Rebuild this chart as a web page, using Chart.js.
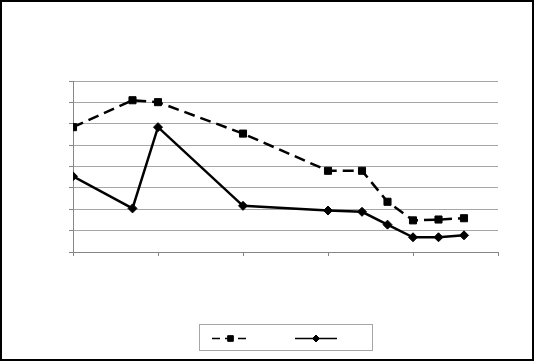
<!DOCTYPE html>
<html>
<head>
<meta charset="utf-8">
<script src="https://cdn.jsdelivr.net/npm/chart.js@4.4.1/dist/chart.umd.min.js"></script>
<style>
  html, body { margin: 0; padding: 0; background: #fff; }
  #wrap { position: absolute; left: 0; top: 0; width: 536px; height: 361px; }
  #frame {
    position: absolute; left: 0; top: 0;
    width: 530px; height: 357px;
    border: 2px solid #000;
    pointer-events: none;
  }
</style>
</head>
<body>
<div id="wrap">
  <canvas id="chart" width="536" height="361"></canvas>
  <div id="frame"></div>
</div>
<script>
// --- data ---
const xValues = [0, 7, 10, 20, 30, 34, 37, 40, 43, 46];
const squareSeries = [58.4, 71.0, 70.1, 55.4, 38.0, 38.0, 23.5, 14.8, 15.2, 15.8];
const diamondSeries = [35.4, 20.4, 58.4, 21.6, 19.4, 18.8, 12.8, 6.9, 6.9, 7.8];
const seriesNames = ['', ''];
const xTicks = [0, 10, 20, 30, 40, 50];
const yTicks = [0, 10, 20, 30, 40, 50, 60, 70, 80];

const toPoints = (ys) => ys.map((y, i) => ({ x: xValues[i], y: y }));

// Excel-style legend box: line + marker, no text
const boxLegend = {
    id: 'boxLegend',
    afterDraw(chart) {
        const ctx = chart.ctx;
        const box = { x: 199.5, y: 324.5, w: 173, h: 26 };
        const midY = 338.5;
        const slots = [{ x0: 212, x1: 249 }, { x0: 295, x1: 337 }];
        ctx.save();
        ctx.strokeStyle = '#a6a6a6';
        ctx.lineWidth = 1;
        ctx.strokeRect(box.x, box.y, box.w, box.h);
        chart.data.datasets.forEach((ds, i) => {
            const s = slots[i];
            ctx.strokeStyle = ds.borderColor;
            ctx.lineWidth = 1.5;
            ctx.setLineDash(ds.borderDash ? [8, 5] : []);
            ctx.beginPath();
            ctx.moveTo(s.x0, midY);
            ctx.lineTo(s.x1, midY);
            ctx.stroke();
            ctx.setLineDash([]);
            ctx.fillStyle = ds.pointBackgroundColor;
            ctx.strokeStyle = ds.pointBorderColor;
            ctx.lineWidth = 1;
            Chart.helpers.drawPoint(ctx, {
                pointStyle: ds.pointStyle,
                radius: ds.pointRadius - 1,
                borderWidth: 1,
                rotation: 0
            }, (s.x0 + s.x1) / 2, midY);
        });
        ctx.restore();
    }
};

new Chart(document.getElementById('chart'), {
    type: 'scatter',
    data: {
        datasets: [
            {
                label: seriesNames[0],
                data: toPoints(squareSeries),
                showLine: true,
                borderColor: '#000',
                borderWidth: 2.5,
                borderDash: [11, 6],
                pointStyle: 'rect',
                pointRadius: 5,
                pointBackgroundColor: '#000',
                pointBorderColor: '#000',
                pointBorderWidth: 1,
                tension: 0
            },
            {
                label: seriesNames[1],
                data: toPoints(diamondSeries),
                showLine: true,
                borderColor: '#000',
                borderWidth: 2.5,
                pointStyle: 'rectRot',
                pointRadius: 4.5,
                pointBackgroundColor: '#000',
                pointBorderColor: '#000',
                pointBorderWidth: 1,
                tension: 0
            }
        ]
    },
    options: {
        responsive: false,
        animation: false,
        layout: { padding: { left: 69, right: 38, top: 81, bottom: 105 } },
        plugins: {
            legend: { display: false },
            tooltip: { enabled: false }
        },
        scales: {
            x: {
                type: 'linear',
                min: xTicks[0],
                max: xTicks[xTicks.length - 1],
                afterBuildTicks: (axis) => { axis.ticks = xTicks.map(v => ({ value: v })); },
                ticks: { display: false },
                grid: { drawOnChartArea: false, drawTicks: true, tickLength: 4, color: '#868686' },
                border: { color: '#868686', width: 1 }
            },
            y: {
                min: yTicks[0],
                max: yTicks[yTicks.length - 1],
                afterBuildTicks: (axis) => { axis.ticks = yTicks.map(v => ({ value: v })); },
                ticks: { display: false },
                grid: { color: '#a6a6a6', tickLength: 4, drawTicks: true, tickColor: '#868686' },
                border: { color: '#868686', width: 1 }
            }
        }
    },
    plugins: [boxLegend]
});
</script>
</body>
</html>
